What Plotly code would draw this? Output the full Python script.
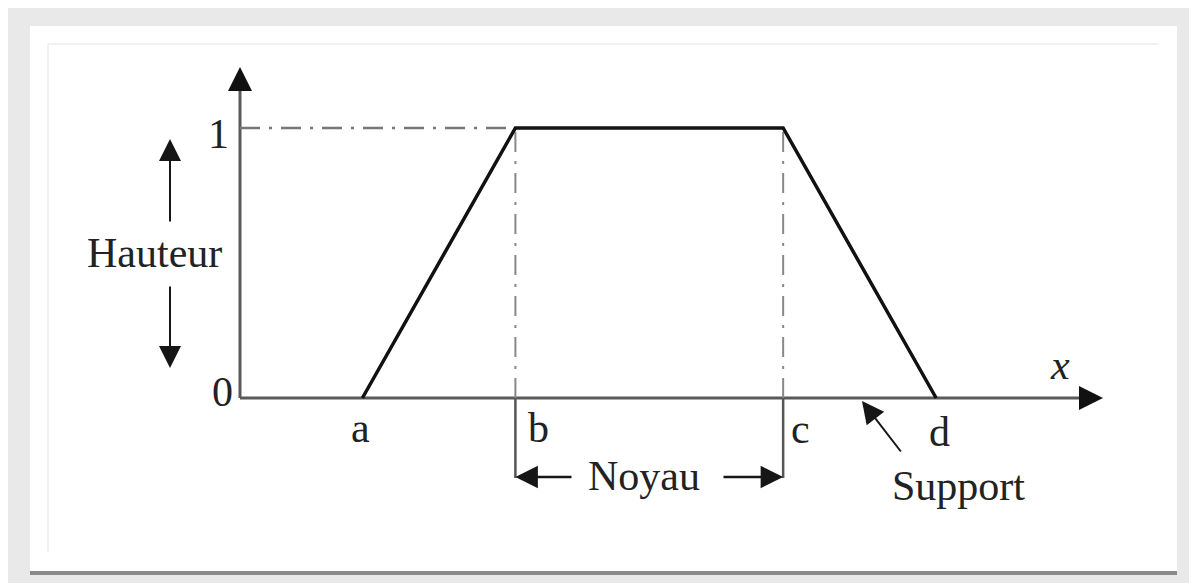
import plotly.graph_objects as go

# ---- data (fuzzy trapezoid membership function) ----
pt_names = ["a", "b", "c", "d"]
pt_x = [3.2, 7.2, 14.2, 18.2]
mu = [0, 1, 1, 0]
y_ticks = [0, 1]
y_tick_labels = ["0", "1"]

OFF = 8                      # page body margin
W, H = 1197 - OFF, 583 - OFF
PX_PER_X = 38.25             # pixels per x unit
ORIGIN_PX = 240 - OFF        # figure pixel of x = 0
PX_PER_Y = 270
ORIGIN_PY = 398 - OFF

x0 = -ORIGIN_PX / PX_PER_X
x1 = (W - ORIGIN_PX) / PX_PER_X
y1 = ORIGIN_PY / PX_PER_Y
y0 = -(H - ORIGIN_PY) / PX_PER_Y

def px(x):   # page pixel -> paper
    return (x - OFF) / W
def py(y):
    return 1 - (y - OFF) / H
def dx(xp):  # page pixel -> data x
    return (xp - OFF - ORIGIN_PX) / PX_PER_X
def dy(yp):
    return (ORIGIN_PY - (yp - OFF)) / PX_PER_Y

a, b, c, d = pt_x
FONT = "Liberation Serif"
TXT = "#222222"
AX = "#5a5a5a"
ARR = "#161616"
FS = 42

fig = go.Figure()

# axis lines (gray)
x_tip, y_tip = dx(1103), dy(67)
fig.add_trace(go.Scatter(x=[0, x_tip - 0.3], y=[0, 0], mode="lines",
                         line=dict(color=AX, width=3), hoverinfo="skip", showlegend=False))
fig.add_trace(go.Scatter(x=[0, 0], y=[0, y_tip - 0.04], mode="lines",
                         line=dict(color=AX, width=3), hoverinfo="skip", showlegend=False))

# dash-dot guides
dd = "20px,9px,3px,9px"
fig.add_trace(go.Scatter(x=[0, b], y=[1, 1], mode="lines",
                         line=dict(color="#777777", width=2.5, dash=dd),
                         hoverinfo="skip", showlegend=False))
for xv in (b, c):
    fig.add_trace(go.Scatter(x=[xv, xv], y=[0, 1], mode="lines",
                             line=dict(color="#888888", width=2, dash=dd),
                             hoverinfo="skip", showlegend=False))
    fig.add_trace(go.Scatter(x=[xv, xv], y=[0, dy(478)], mode="lines",
                             line=dict(color="#555555", width=2.5),
                             hoverinfo="skip", showlegend=False))

# trapezoid
fig.add_trace(go.Scatter(x=pt_x, y=mu, mode="lines",
                         line=dict(color="#111111", width=3.5),
                         hoverinfo="skip", showlegend=False))

shapes = [
    dict(type="rect", xref="paper", yref="paper", x0=0, x1=1, y0=0, y1=1,
         fillcolor="#e9e9e9", line=dict(width=0), layer="below"),
    dict(type="rect", xref="paper", yref="paper", x0=px(30), x1=px(1177), y0=py(571), y1=py(26),
         fillcolor="#ffffff", line=dict(width=0), layer="below"),
    dict(type="rect", xref="paper", yref="paper", x0=px(30), x1=px(1177), y0=py(575), y1=py(571),
         fillcolor="#8a8a8a", line=dict(width=0), layer="below"),
    dict(type="line", xref="paper", yref="paper", x0=px(48), x1=px(1158), y0=py(44), y1=py(44),
         line=dict(color="#ececec", width=1.5), layer="below"),
    dict(type="line", xref="paper", yref="paper", x0=px(48), x1=px(48), y0=py(44), y1=py(552),
         line=dict(color="#ececec", width=1.5), layer="below"),
]

ann = []
def arrow(xt, yt, xs, ys, color, width, size=1.0):
    ann.append(dict(x=xt, y=yt, ax=xs, ay=ys, xref="x", yref="y", axref="x", ayref="y",
                    text="", showarrow=True, arrowhead=2, arrowsize=size,
                    arrowwidth=width, arrowcolor=color))

def label(x, y, t, size=FS, xanchor="center", italic=False):
    ann.append(dict(x=x, y=y, xref="x", yref="y", text=(f"<i>{t}</i>" if italic else t),
                    showarrow=False, xanchor=xanchor, yanchor="middle",
                    font=dict(family=FONT, size=size, color=TXT)))

# axis arrowheads (black)
arrow(x_tip, 0, x_tip - 0.6, 0, "#111111", 3, 1.6)
arrow(0, y_tip, 0, y_tip - 0.09, "#111111", 3, 1.6)

# Hauteur arrows
hx = dx(170)
arrow(hx, dy(139), hx, dy(223), ARR, 2, 2.2)
arrow(hx, dy(368), hx, dy(285), ARR, 2, 2.2)
label(dx(154), dy(253), "Hauteur")

# Noyau arrows
ny = dy(477)
arrow(b, ny, dx(573), ny, ARR, 2.5, 1.8)
arrow(c, ny, dx(722), ny, ARR, 2.5, 1.8)
label(dx(644), dy(476), "Noyau")

# Support arrow
arrow(dx(862), dy(401), dx(902), dy(453), ARR, 2, 2.2)
label(dx(958), dy(486), "Support")

# y tick labels
label(dx(222), dy(392), y_tick_labels[0])
label(dx(218), dy(134), y_tick_labels[1])

# point labels
label(a - 0.05, dy(428), pt_names[0])
label(b + 0.6, dy(428), pt_names[1])
label(c + 0.45, dy(429), pt_names[2])
label(d + 0.1, dy(432), pt_names[3])
label(dx(1060), dy(365), "x", italic=True)

fig.update_layout(
    width=W, height=H, margin=dict(l=0, r=0, t=0, b=0),
    paper_bgcolor="#ffffff", plot_bgcolor="rgba(0,0,0,0)",
    xaxis=dict(range=[x0, x1], visible=False, fixedrange=True),
    yaxis=dict(range=[y0, y1], visible=False, fixedrange=True),
    shapes=shapes, annotations=ann, showlegend=False,
)
fig.write_html("out.html")
